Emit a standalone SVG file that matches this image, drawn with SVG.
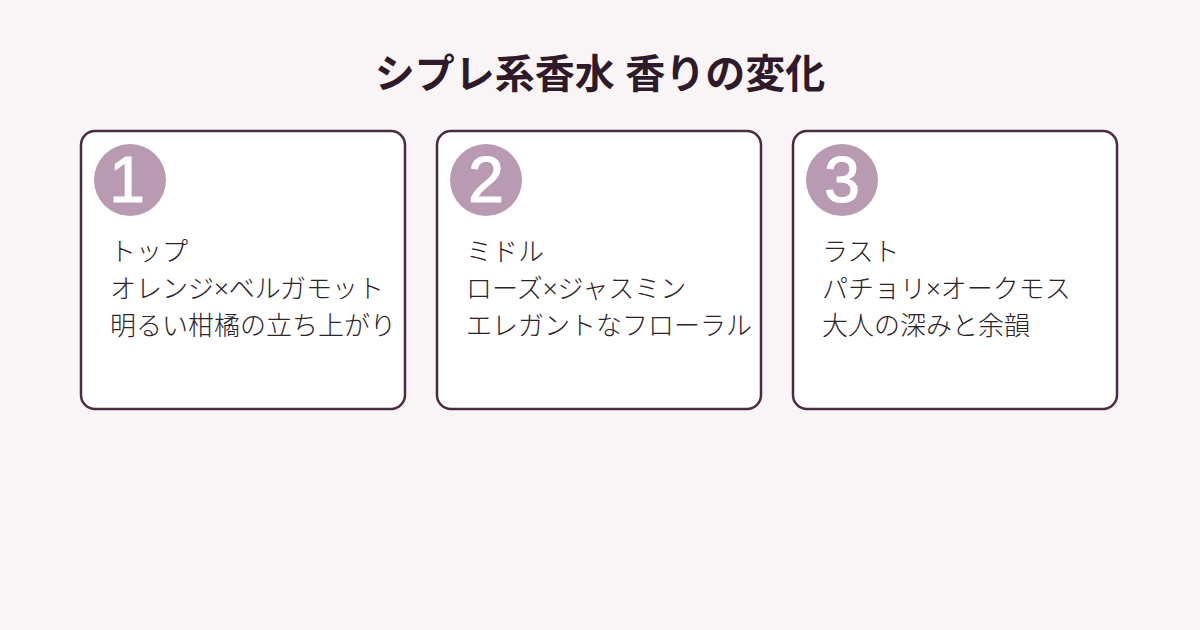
<svg xmlns="http://www.w3.org/2000/svg" width="1200" height="630" viewBox="0 0 1200 630">
<style>
.card{fill:#ffffff;stroke:#4a2c42;stroke-width:2.5}
.badge{fill:#b89bb3}
.num{font-family:"Liberation Sans",Arial,sans-serif;font-size:64px;fill:#ffffff;stroke:#ffffff;stroke-width:1.2;stroke-linejoin:round;text-anchor:middle}
.body{font-family:"Noto Sans","Noto Sans CJK JP",sans-serif;font-size:26px;font-weight:300;fill:#2e2229}
.title{font-family:"Noto Sans","Noto Sans CJK JP",sans-serif;font-size:40px;font-weight:bold;fill:#2e1a28;text-anchor:middle}
</style>
<rect width="1200" height="630" fill="#f9f5f7"/>
<text class="title" x="600" y="88">シプレ系香水 香りの変化</text>
<g id="node1">
<rect class="card" x="81" y="131" width="324" height="278" rx="14"/>
<circle class="badge" cx="130" cy="180" r="36"/>
<text class="num" x="127" y="202">1</text>
<text class="body" x="110" y="261">トップ</text>
<text class="body" x="110" y="298">オレンジ×ベルガモット</text>
<text class="body" x="110" y="335">明るい柑橘の立ち上がり</text>
</g>
<g id="node2">
<rect class="card" x="437" y="131" width="324" height="278" rx="14"/>
<circle class="badge" cx="486" cy="180" r="36"/>
<text class="num" x="486" y="202">2</text>
<text class="body" x="466" y="261">ミドル</text>
<text class="body" x="466" y="298">ローズ×ジャスミン</text>
<text class="body" x="466" y="335">エレガントなフローラル</text>
</g>
<g id="node3">
<rect class="card" x="793" y="131" width="324" height="278" rx="14"/>
<circle class="badge" cx="842" cy="180" r="36"/>
<text class="num" x="842" y="202">3</text>
<text class="body" x="822" y="261">ラスト</text>
<text class="body" x="822" y="298">パチョリ×オークモス</text>
<text class="body" x="822" y="335">大人の深みと余韻</text>
</g>
<g id="connectors"/>
</svg>
